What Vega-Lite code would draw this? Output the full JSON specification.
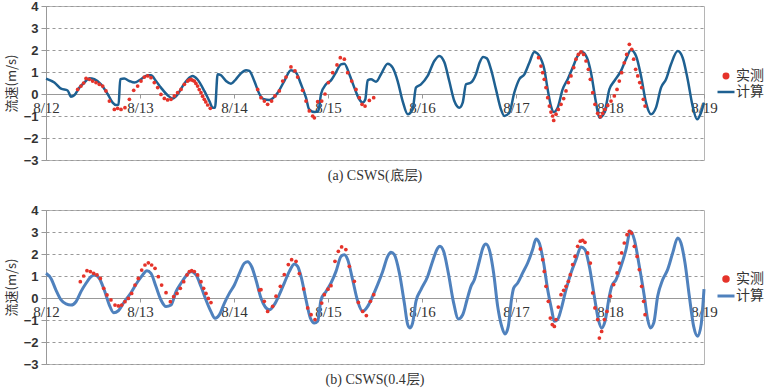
{
"$schema":"https://vega.github.io/schema/vega-lite/v6.json",
"background":"white",
"padding":{"left":4,"top":-1,"right":0,"bottom":0},
"spacing":19,
"config":{"view":{"stroke":"#b5b5b5","strokeWidth":1},"font":"Liberation Sans"},
"datasets":{
"lineA":[{"t":0,"v":0.70},{"t":0.089,"v":0.52},{"t":0.16,"v":0.24},{"t":0.23,"v":0.16},{"t":0.266,"v":-0.12},{"t":0.30,"v":-0.06},{"t":0.355,"v":0.29},{"t":0.408,"v":0.52},{"t":0.461,"v":0.72},{"t":0.514,"v":0.67},{"t":0.585,"v":0.44},{"t":0.656,"v":0.0},{"t":0.709,"v":-0.39},{"t":0.745,"v":-0.5},{"t":0.772,"v":-0.48},{"t":0.79,"v":0.67},{"t":0.833,"v":0.7},{"t":0.887,"v":0.59},{"t":0.94,"v":0.52},{"t":1.01,"v":0.67},{"t":1.082,"v":0.85},{"t":1.117,"v":0.85},{"t":1.17,"v":0.59},{"t":1.223,"v":0.29},{"t":1.294,"v":-0.06},{"t":1.348,"v":-0.2},{"t":1.40,"v":-0.02},{"t":1.454,"v":0.36},{"t":1.507,"v":0.67},{"t":1.56,"v":0.82},{"t":1.61,"v":0.67},{"t":1.684,"v":0.14},{"t":1.738,"v":-0.32},{"t":1.773,"v":-0.62},{"t":1.798,"v":-0.62},{"t":1.826,"v":0.9},{"t":1.862,"v":0.85},{"t":1.915,"v":0.59},{"t":1.968,"v":0.47},{"t":2.02,"v":0.67},{"t":2.074,"v":0.94},{"t":2.128,"v":1.08},{"t":2.163,"v":1.05},{"t":2.216,"v":0.59},{"t":2.27,"v":0.0},{"t":2.32,"v":-0.24},{"t":2.376,"v":-0.27},{"t":2.465,"v":0.06},{"t":2.535,"v":0.59},{"t":2.606,"v":1.08},{"t":2.66,"v":0.97},{"t":2.713,"v":0.44},{"t":2.766,"v":-0.17},{"t":2.80,"v":-0.7},{"t":2.855,"v":-0.82},{"t":2.897,"v":-0.78},{"t":2.926,"v":0.0},{"t":2.979,"v":0.44},{"t":3.032,"v":0.62},{"t":3.074,"v":0.9},{"t":3.138,"v":1.35},{"t":3.174,"v":1.38},{"t":3.227,"v":0.9},{"t":3.28,"v":0.29},{"t":3.333,"v":-0.24},{"t":3.369,"v":-0.39},{"t":3.397,"v":-0.24},{"t":3.422,"v":0.62},{"t":3.457,"v":0.67},{"t":3.511,"v":0.56},{"t":3.564,"v":0.9},{"t":3.635,"v":1.38},{"t":3.688,"v":1.2},{"t":3.741,"v":0.59},{"t":3.794,"v":-0.32},{"t":3.848,"v":-0.92},{"t":3.90,"v":-0.7},{"t":3.936,"v":0.29},{"t":3.989,"v":0.44},{"t":4.06,"v":0.82},{"t":4.131,"v":1.5},{"t":4.184,"v":1.73},{"t":4.238,"v":1.44},{"t":4.29,"v":0.59},{"t":4.344,"v":-0.32},{"t":4.397,"v":-0.62},{"t":4.433,"v":-0.39},{"t":4.468,"v":0.44},{"t":4.521,"v":0.52},{"t":4.574,"v":0.9},{"t":4.615,"v":1.45},{"t":4.65,"v":1.68},{"t":4.69,"v":1.62},{"t":4.734,"v":1.12},{"t":4.787,"v":0.21},{"t":4.84,"v":-0.7},{"t":4.876,"v":-1.0},{"t":4.929,"v":-0.85},{"t":4.982,"v":0.06},{"t":5.035,"v":0.67},{"t":5.089,"v":0.89},{"t":5.142,"v":1.42},{"t":5.195,"v":1.91},{"t":5.248,"v":1.73},{"t":5.301,"v":1.12},{"t":5.337,"v":0.21},{"t":5.372,"v":-0.55},{"t":5.401,"v":-0.82},{"t":5.443,"v":-0.62},{"t":5.496,"v":0.21},{"t":5.55,"v":0.67},{"t":5.603,"v":1.2},{"t":5.656,"v":1.73},{"t":5.702,"v":1.91},{"t":5.755,"v":1.65},{"t":5.798,"v":0.97},{"t":5.851,"v":-0.39},{"t":5.887,"v":-1.08},{"t":5.94,"v":-0.85},{"t":5.993,"v":0.21},{"t":6.046,"v":0.59},{"t":6.117,"v":1.05},{"t":6.17,"v":1.58},{"t":6.223,"v":2.0},{"t":6.277,"v":1.73},{"t":6.33,"v":0.82},{"t":6.383,"v":-0.39},{"t":6.436,"v":-0.92},{"t":6.489,"v":-0.62},{"t":6.543,"v":0.29},{"t":6.596,"v":0.67},{"t":6.649,"v":1.35},{"t":6.72,"v":1.95},{"t":6.773,"v":1.65},{"t":6.826,"v":0.67},{"t":6.879,"v":-0.55},{"t":6.926,"v":-1.15},{"t":6.968,"v":-0.85},{"t":7.0,"v":-0.39}],
"obsA":[{"t":0.337,"v":0.21},{"t":0.372,"v":0.36},{"t":0.40,"v":0.5},{"t":0.426,"v":0.71},{"t":0.461,"v":0.67},{"t":0.496,"v":0.59},{"t":0.532,"v":0.52},{"t":0.567,"v":0.44},{"t":0.603,"v":0.36},{"t":0.638,"v":0.14},{"t":0.674,"v":-0.32},{"t":0.727,"v":-0.7},{"t":0.762,"v":-0.65},{"t":0.798,"v":-0.7},{"t":0.84,"v":-0.62},{"t":0.887,"v":-0.24},{"t":0.933,"v":0.17},{"t":0.975,"v":0.36},{"t":1.011,"v":0.59},{"t":1.046,"v":0.77},{"t":1.082,"v":0.82},{"t":1.117,"v":0.74},{"t":1.152,"v":0.52},{"t":1.188,"v":0.29},{"t":1.223,"v":-0.02},{"t":1.259,"v":-0.2},{"t":1.294,"v":-0.27},{"t":1.33,"v":-0.24},{"t":1.365,"v":-0.09},{"t":1.40,"v":0.06},{"t":1.436,"v":0.21},{"t":1.472,"v":0.44},{"t":1.507,"v":0.59},{"t":1.525,"v":0.64},{"t":1.543,"v":0.67},{"t":1.56,"v":0.62},{"t":1.578,"v":0.59},{"t":1.595,"v":0.48},{"t":1.613,"v":0.36},{"t":1.63,"v":0.2},{"t":1.649,"v":0.06},{"t":1.666,"v":-0.1},{"t":1.684,"v":-0.24},{"t":1.70,"v":-0.36},{"t":1.72,"v":-0.5},{"t":1.748,"v":-0.65},{"t":2.252,"v":0.21},{"t":2.287,"v":-0.17},{"t":2.323,"v":-0.32},{"t":2.358,"v":-0.47},{"t":2.40,"v":-0.32},{"t":2.436,"v":-0.09},{"t":2.482,"v":0.14},{"t":2.518,"v":0.59},{"t":2.553,"v":0.77},{"t":2.606,"v":1.23},{"t":2.649,"v":1.05},{"t":2.677,"v":0.77},{"t":2.73,"v":0.17},{"t":2.766,"v":-0.32},{"t":2.801,"v":-0.77},{"t":2.837,"v":-1.0},{"t":2.855,"v":-1.08},{"t":2.89,"v":-0.35},{"t":2.933,"v":-0.32},{"t":2.968,"v":0.0},{"t":3.004,"v":0.52},{"t":3.05,"v":0.97},{"t":3.096,"v":1.32},{"t":3.131,"v":1.65},{"t":3.174,"v":1.58},{"t":3.209,"v":0.97},{"t":3.252,"v":0.59},{"t":3.298,"v":0.21},{"t":3.333,"v":-0.17},{"t":3.362,"v":-0.47},{"t":3.394,"v":-0.55},{"t":3.44,"v":-0.29},{"t":3.486,"v":-0.17},{"t":5.24,"v":1.65},{"t":5.266,"v":1.27},{"t":5.284,"v":0.97},{"t":5.301,"v":0.67},{"t":5.319,"v":0.29},{"t":5.337,"v":-0.17},{"t":5.355,"v":-0.55},{"t":5.372,"v":-0.82},{"t":5.39,"v":-1.0},{"t":5.401,"v":-1.2},{"t":5.426,"v":-0.92},{"t":5.45,"v":-0.7},{"t":5.479,"v":-0.47},{"t":5.507,"v":-0.21},{"t":5.532,"v":0.14},{"t":5.557,"v":0.52},{"t":5.585,"v":0.82},{"t":5.614,"v":1.2},{"t":5.638,"v":1.58},{"t":5.663,"v":1.8},{"t":5.691,"v":1.91},{"t":5.72,"v":1.8},{"t":5.745,"v":1.5},{"t":5.77,"v":1.12},{"t":5.791,"v":0.67},{"t":5.816,"v":0.06},{"t":5.84,"v":-0.47},{"t":5.869,"v":-0.88},{"t":5.897,"v":-1.03},{"t":5.922,"v":-0.88},{"t":5.947,"v":-0.7},{"t":5.976,"v":-0.52},{"t":6.011,"v":-0.32},{"t":6.046,"v":-0.09},{"t":6.075,"v":0.21},{"t":6.099,"v":0.59},{"t":6.124,"v":0.97},{"t":6.152,"v":1.42},{"t":6.177,"v":1.8},{"t":6.206,"v":2.26},{"t":6.231,"v":2.03},{"t":6.252,"v":1.58},{"t":6.273,"v":1.12},{"t":6.295,"v":0.82},{"t":6.316,"v":0.52},{"t":6.337,"v":0.29},{"t":6.355,"v":-0.24},{"t":6.373,"v":-0.55}],
"lineB":[{"t":0,"v":1.12},{"t":0.053,"v":0.89},{"t":0.106,"v":0.36},{"t":0.16,"v":-0.09},{"t":0.213,"v":-0.27},{"t":0.266,"v":-0.32},{"t":0.319,"v":-0.17},{"t":0.372,"v":0.29},{"t":0.426,"v":0.67},{"t":0.479,"v":0.97},{"t":0.521,"v":1.05},{"t":0.567,"v":0.89},{"t":0.62,"v":0.36},{"t":0.674,"v":-0.32},{"t":0.72,"v":-0.67},{"t":0.77,"v":-0.58},{"t":0.833,"v":-0.17},{"t":0.904,"v":0.24},{"t":0.975,"v":0.74},{"t":1.028,"v":1.05},{"t":1.074,"v":1.24},{"t":1.117,"v":1.12},{"t":1.17,"v":0.52},{"t":1.223,"v":-0.09},{"t":1.277,"v":-0.39},{"t":1.33,"v":-0.32},{"t":1.383,"v":0.29},{"t":1.436,"v":0.67},{"t":1.489,"v":1.0},{"t":1.543,"v":1.2},{"t":1.596,"v":1.05},{"t":1.649,"v":0.52},{"t":1.702,"v":-0.09},{"t":1.755,"v":-0.62},{"t":1.798,"v":-0.92},{"t":1.844,"v":-0.77},{"t":1.897,"v":-0.24},{"t":1.95,"v":0.21},{"t":2.004,"v":0.59},{"t":2.057,"v":1.12},{"t":2.11,"v":1.58},{"t":2.145,"v":1.65},{"t":2.188,"v":1.42},{"t":2.234,"v":0.82},{"t":2.287,"v":0.0},{"t":2.33,"v":-0.39},{"t":2.376,"v":-0.53},{"t":2.429,"v":-0.3},{"t":2.482,"v":0.15},{"t":2.535,"v":0.68},{"t":2.589,"v":1.21},{"t":2.642,"v":1.55},{"t":2.677,"v":1.44},{"t":2.713,"v":0.98},{"t":2.766,"v":-0.08},{"t":2.812,"v":-0.91},{"t":2.855,"v":-1.14},{"t":2.89,"v":-1.06},{"t":2.926,"v":-0.08},{"t":2.979,"v":0.3},{"t":3.032,"v":0.68},{"t":3.085,"v":1.21},{"t":3.138,"v":1.89},{"t":3.174,"v":1.97},{"t":3.21,"v":1.74},{"t":3.262,"v":0.83},{"t":3.316,"v":-0.15},{"t":3.369,"v":-0.61},{"t":3.422,"v":-0.38},{"t":3.475,"v":0.08},{"t":3.528,"v":0.61},{"t":3.582,"v":1.21},{"t":3.635,"v":1.89},{"t":3.67,"v":2.08},{"t":3.706,"v":1.97},{"t":3.759,"v":1.14},{"t":3.812,"v":-0.23},{"t":3.848,"v":-1.21},{"t":3.872,"v":-1.36},{"t":3.90,"v":-1.14},{"t":3.936,"v":-0.15},{"t":3.989,"v":0.38},{"t":4.06,"v":0.98},{"t":4.113,"v":1.67},{"t":4.167,"v":2.27},{"t":4.191,"v":2.35},{"t":4.23,"v":2.12},{"t":4.28,"v":1.14},{"t":4.337,"v":-0.23},{"t":4.387,"v":-0.95},{"t":4.433,"v":-0.76},{"t":4.479,"v":-0.08},{"t":4.521,"v":0.53},{"t":4.557,"v":0.83},{"t":4.61,"v":1.67},{"t":4.65,"v":2.3},{"t":4.68,"v":2.45},{"t":4.716,"v":2.2},{"t":4.762,"v":1.14},{"t":4.805,"v":-0.38},{"t":4.848,"v":-1.29},{"t":4.883,"v":-1.64},{"t":4.918,"v":-1.29},{"t":4.954,"v":0.0},{"t":4.975,"v":0.45},{"t":5.018,"v":0.68},{"t":5.071,"v":1.14},{"t":5.124,"v":1.59},{"t":5.177,"v":2.2},{"t":5.213,"v":2.68},{"t":5.248,"v":2.5},{"t":5.294,"v":1.59},{"t":5.337,"v":0.38},{"t":5.379,"v":-0.53},{"t":5.408,"v":-1.06},{"t":5.443,"v":-0.98},{"t":5.479,"v":-0.53},{"t":5.532,"v":0.38},{"t":5.585,"v":1.14},{"t":5.638,"v":1.74},{"t":5.691,"v":2.32},{"t":5.734,"v":2.2},{"t":5.78,"v":1.44},{"t":5.833,"v":0.08},{"t":5.876,"v":-0.98},{"t":5.911,"v":-1.36},{"t":5.947,"v":-1.06},{"t":5.993,"v":0.08},{"t":6.018,"v":0.53},{"t":6.064,"v":0.83},{"t":6.117,"v":1.44},{"t":6.17,"v":2.2},{"t":6.216,"v":3.03},{"t":6.259,"v":2.65},{"t":6.312,"v":1.44},{"t":6.365,"v":0.08},{"t":6.401,"v":-0.98},{"t":6.429,"v":-1.36},{"t":6.465,"v":-1.14},{"t":6.507,"v":0.08},{"t":6.56,"v":0.83},{"t":6.613,"v":1.29},{"t":6.667,"v":2.05},{"t":6.72,"v":2.73},{"t":6.755,"v":2.5},{"t":6.798,"v":1.59},{"t":6.844,"v":0.08},{"t":6.89,"v":-1.29},{"t":6.933,"v":-1.74},{"t":6.97,"v":-1.2},{"t":7.0,"v":0.4}],
"obsB":[{"t":0.365,"v":0.74},{"t":0.401,"v":1.0},{"t":0.436,"v":1.24},{"t":0.472,"v":1.2},{"t":0.507,"v":1.12},{"t":0.543,"v":1.05},{"t":0.578,"v":0.89},{"t":0.614,"v":0.44},{"t":0.649,"v":0.14},{"t":0.691,"v":-0.09},{"t":0.734,"v":-0.32},{"t":0.77,"v":-0.36},{"t":0.805,"v":-0.32},{"t":0.84,"v":-0.17},{"t":0.876,"v":-0.02},{"t":0.911,"v":0.21},{"t":0.947,"v":0.59},{"t":0.982,"v":0.89},{"t":1.018,"v":1.27},{"t":1.053,"v":1.5},{"t":1.089,"v":1.6},{"t":1.124,"v":1.5},{"t":1.16,"v":1.35},{"t":1.195,"v":0.97},{"t":1.23,"v":0.59},{"t":1.277,"v":0.24},{"t":1.323,"v":-0.17},{"t":1.358,"v":0.06},{"t":1.394,"v":0.21},{"t":1.429,"v":0.44},{"t":1.465,"v":0.74},{"t":1.5,"v":1.05},{"t":1.525,"v":1.2},{"t":1.55,"v":1.24},{"t":1.578,"v":1.2},{"t":1.613,"v":1.05},{"t":1.649,"v":0.74},{"t":1.677,"v":0.44},{"t":1.702,"v":0.21},{"t":1.727,"v":-0.02},{"t":1.755,"v":-0.21},{"t":2.27,"v":0.36},{"t":2.287,"v":0.38},{"t":2.322,"v":-0.15},{"t":2.358,"v":-0.61},{"t":2.411,"v":-0.38},{"t":2.447,"v":0.08},{"t":2.493,"v":0.53},{"t":2.535,"v":1.06},{"t":2.578,"v":1.52},{"t":2.613,"v":1.74},{"t":2.66,"v":1.67},{"t":2.695,"v":1.11},{"t":2.741,"v":0.41},{"t":2.784,"v":-0.45},{"t":2.82,"v":-0.76},{"t":2.862,"v":-0.98},{"t":2.933,"v":-0.23},{"t":2.961,"v":0.15},{"t":3.0,"v":0.4},{"t":3.032,"v":0.56},{"t":3.074,"v":1.67},{"t":3.11,"v":2.12},{"t":3.145,"v":2.32},{"t":3.19,"v":2.2},{"t":3.227,"v":1.44},{"t":3.28,"v":0.76},{"t":3.323,"v":-0.2},{"t":3.369,"v":-0.61},{"t":3.408,"v":-0.8},{"t":3.451,"v":-0.15},{"t":3.486,"v":0.15},{"t":5.259,"v":2.23},{"t":5.284,"v":1.74},{"t":5.301,"v":1.21},{"t":5.319,"v":0.53},{"t":5.344,"v":-0.15},{"t":5.365,"v":-0.91},{"t":5.386,"v":-1.21},{"t":5.408,"v":-1.29},{"t":5.426,"v":-0.98},{"t":5.45,"v":-0.41},{"t":5.479,"v":0.15},{"t":5.507,"v":0.35},{"t":5.532,"v":0.53},{"t":5.557,"v":0.76},{"t":5.578,"v":1.06},{"t":5.603,"v":1.52},{"t":5.628,"v":1.89},{"t":5.656,"v":2.35},{"t":5.684,"v":2.58},{"t":5.709,"v":2.62},{"t":5.734,"v":2.53},{"t":5.762,"v":2.05},{"t":5.791,"v":1.59},{"t":5.816,"v":0.23},{"t":5.84,"v":-0.45},{"t":5.869,"v":-0.98},{"t":5.887,"v":-1.82},{"t":5.911,"v":-1.52},{"t":5.94,"v":-0.98},{"t":5.968,"v":-0.61},{"t":6.004,"v":0.08},{"t":6.039,"v":0.61},{"t":6.075,"v":1.14},{"t":6.099,"v":1.59},{"t":6.124,"v":2.05},{"t":6.152,"v":2.5},{"t":6.181,"v":2.88},{"t":6.206,"v":3.03},{"t":6.23,"v":2.95},{"t":6.259,"v":2.35},{"t":6.288,"v":1.89},{"t":6.312,"v":1.29},{"t":6.337,"v":0.53},{"t":6.358,"v":-0.15},{"t":6.373,"v":-0.76}]
},
"resolve":{"scale":{"color":"independent"},"legend":{"color":"independent"}},
"vconcat":[
{
"width":658,"height":154,
"title":{"text":"(a)  CSWS(底层)","orient":"bottom","font":"Liberation Serif","fontSize":14,"fontWeight":"normal","color":"#333","offset":2,"anchor":"middle"},
"layer":[
{"data":{"name":"lineA"},"mark":{"type":"line","interpolate":"monotone","strokeWidth":2.5},
"encoding":{
"x":{"field":"t","type":"quantitative","scale":{"domain":[0,7],"nice":false,"zero":false},
"axis":{"values":[0,1,2,3,4,5,6,7],"tickCount":20,"labelExpr":"'8/' + (12 + datum.value)","offset":-66,"grid":false,"domainColor":"#999","tickColor":"#999","tickSize":4,"labelFont":"Liberation Serif","labelFontSize":15,"labelColor":"#333","labelFlush":false,"labelOverlap":false,"labelPadding":2,"title":null}},
"y":{"field":"v","type":"quantitative","scale":{"domain":[-3,4],"nice":false,"zero":false},
"axis":{"values":[-3,-2,-1,0,1,2,3,4],"tickCount":20,"format":"d","labelOverlap":false,"grid":true,"gridDash":[3,3],"gridColor":"#999","domainColor":"#999","tickColor":"#999","tickSize":5,"labelFontSize":13,"labelFontWeight":"bold","labelColor":"#333","labelPadding":3,"title":"流速(m/s)","titleFont":"Noto Sans CJK SC","titleFontSize":13,"titleFontWeight":"normal","titleColor":"#333","titlePadding":5}},
"color":{"datum":"计算","type":"nominal","scale":{"domain":["实测","计算"],"range":["#e5332a","#1e6091"]},
"legend":{"orient":"none","legendX":673,"legendY":63,"title":null,"labelFont":"Noto Sans CJK SC","labelFontSize":14,"labelColor":"#333","labelOffset":3,"rowPadding":1,
"encode":{"symbols":{"update":{"shape":{"signal":"datum.value === '计算' ? 'stroke' : 'circle'"},"size":{"signal":"datum.value === '计算' ? 289 : 20"},"fill":{"signal":"datum.value === '计算' ? 'transparent' : '#e5332a'"},"stroke":{"signal":"datum.value === '计算' ? '#1e6091' : 'transparent'"},"strokeWidth":{"value":2.5},"opacity":{"value":1}}}}}}
}},
{"data":{"name":"obsA"},"mark":{"type":"point","filled":true,"size":14,"opacity":1},
"encoding":{"x":{"field":"t","type":"quantitative"},"y":{"field":"v","type":"quantitative"},"color":{"datum":"实测","type":"nominal"}}}
]
},
{
"width":658,"height":154,
"title":{"text":"(b)  CSWS(0.4层)","orient":"bottom","font":"Liberation Serif","fontSize":14,"fontWeight":"normal","color":"#333","offset":2,"anchor":"middle"},
"layer":[
{"data":{"name":"lineB"},"mark":{"type":"line","interpolate":"monotone","strokeWidth":3},
"encoding":{
"x":{"field":"t","type":"quantitative","scale":{"domain":[0,7],"nice":false,"zero":false},
"axis":{"values":[0,1,2,3,4,5,6,7],"tickCount":20,"labelExpr":"'8/' + (12 + datum.value)","offset":-66,"grid":false,"domainColor":"#999","tickColor":"#999","tickSize":4,"labelFont":"Liberation Serif","labelFontSize":15,"labelColor":"#333","labelFlush":false,"labelOverlap":false,"labelPadding":2,"title":null}},
"y":{"field":"v","type":"quantitative","scale":{"domain":[-3,4],"nice":false,"zero":false},
"axis":{"values":[-3,-2,-1,0,1,2,3,4],"tickCount":20,"format":"d","labelOverlap":false,"grid":true,"gridDash":[3,3],"gridColor":"#999","domainColor":"#999","tickColor":"#999","tickSize":5,"labelFontSize":13,"labelFontWeight":"bold","labelColor":"#333","labelPadding":3,"title":"流速(m/s)","titleFont":"Noto Sans CJK SC","titleFontSize":13,"titleFontWeight":"normal","titleColor":"#333","titlePadding":5}},
"color":{"datum":"计算","type":"nominal","scale":{"domain":["实测","计算"],"range":["#e5332a","#4f81bd"]},
"legend":{"orient":"none","legendX":673,"legendY":62,"title":null,"labelFont":"Noto Sans CJK SC","labelFontSize":14,"labelColor":"#333","labelOffset":3,"rowPadding":1,
"encode":{"symbols":{"update":{"shape":{"signal":"datum.value === '计算' ? 'stroke' : 'circle'"},"size":{"signal":"datum.value === '计算' ? 289 : 20"},"fill":{"signal":"datum.value === '计算' ? 'transparent' : '#e5332a'"},"stroke":{"signal":"datum.value === '计算' ? '#4f81bd' : 'transparent'"},"strokeWidth":{"value":3},"opacity":{"value":1}}}}}}
}},
{"data":{"name":"obsB"},"mark":{"type":"point","filled":true,"size":14,"opacity":1},
"encoding":{"x":{"field":"t","type":"quantitative"},"y":{"field":"v","type":"quantitative"},"color":{"datum":"实测","type":"nominal"}}}
]
}
]
}
